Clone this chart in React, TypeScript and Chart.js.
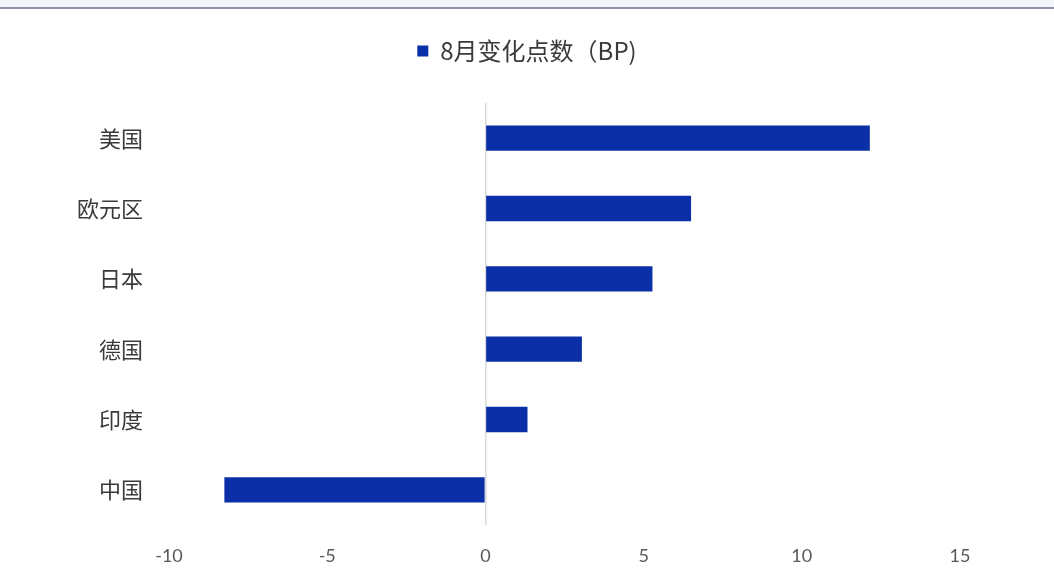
import React, { useEffect, useRef } from "react";
import { Chart, registerables } from "chart.js";

Chart.register(...registerables);

const categories = ["美国", "欧元区", "日本", "德国", "印度", "中国"];
const values = [12.15, 6.5, 5.28, 3.05, 1.33, -8.25];
const seriesLabel = "8月变化点数（BP)";
const xMin = -10;
const xMax = 15;
const xStep = 5;

const legendGap = {
  id: "legendGap",
  beforeInit(chart: any) {
    const legend = chart.legend;
    if (!legend) return;
    const origFit = legend.fit;
    legend.fit = function () {
      origFit.call(this);
      this.height += 30;
    };
  },
  afterLayout(chart: any) {
    if (chart.legend) {
      chart.legend.left = 0;
      chart.legend.right = chart.width;
    }
  },
};

export default function App() {
  const ref = useRef<HTMLCanvasElement | null>(null);
  useEffect(() => {
    if (!ref.current) return;
    const chart = new Chart(ref.current, {
      type: "bar",
      data: {
        labels: categories,
        datasets: [
          {
            label: seriesLabel,
            data: values,
            backgroundColor: "#0a2fa6",
            borderWidth: 0,
            barPercentage: 0.36,
            categoryPercentage: 1,
          },
        ],
      },
      plugins: [legendGap],
      options: {
        indexAxis: "y",
        animation: false,
        responsive: false,
        maintainAspectRatio: false,
        layout: { padding: { top: 29, right: 94, bottom: 0, left: 0 } },
        plugins: {
          legend: {
            display: true,
            position: "top",
            labels: {
              boxWidth: 11,
              boxHeight: 11,
              padding: 10,
              color: "#3a3a3a",
              font: { family: "'Noto Sans CJK SC', sans-serif", size: 24 },
            },
          },
          tooltip: { enabled: false },
        },
        scales: {
          x: {
            type: "linear",
            min: xMin,
            max: xMax,
            ticks: {
              stepSize: xStep,
              padding: 20,
              color: "#595959",
              font: { family: "Lato, sans-serif", size: 18 },
            },
            grid: {
              drawTicks: false,
              color: (ctx: any) => (ctx.tick && ctx.tick.value === 0 ? "#d9d9d9" : "rgba(0,0,0,0)"),
              lineWidth: 1.5,
            },
            border: { display: false },
            afterFit(scale: any) {
              scale.height = 60;
            },
          },
          y: {
            ticks: {
              padding: 26,
              color: "#3a3a3a",
              font: { family: "'Noto Sans CJK SC', sans-serif", size: 22 },
            },
            grid: { display: false, drawTicks: false },
            border: { display: false },
            afterFit(scale: any) {
              scale.width = 169;
            },
          },
        },
      },
    });
    return () => chart.destroy();
  }, []);

  return (
    <div style={{ position: "fixed", left: 0, top: 0, width: 1054, height: 585, background: "#ffffff" }}>
      <div style={{ position: "absolute", left: 0, top: 0, width: 1054, height: 7, background: "#f3f6f9" }} />
      <div style={{ position: "absolute", left: 0, top: 7, width: 1054, height: 2, background: "#8c96a6" }} />
      <canvas ref={ref} width={1054} height={585} style={{ position: "absolute", left: 0, top: 0, width: 1054, height: 585 }} />
    </div>
  );
}
